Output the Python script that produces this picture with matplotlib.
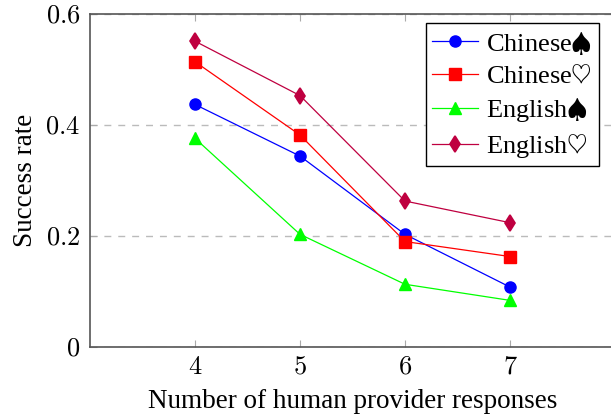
import numpy as np
import matplotlib.pyplot as plt

plt.rcParams['mathtext.fontset'] = 'cm'
plt.rcParams['font.family'] = ['Liberation Serif', 'DejaVu Serif']

# data
responses = [4, 5, 6, 7]
chinese_spade = [0.437, 0.344, 0.203, 0.108]
chinese_heart = [0.514, 0.382, 0.190, 0.163]
english_spade = [0.376, 0.203, 0.113, 0.084]
english_heart = [0.551, 0.453, 0.263, 0.224]
labels = [r"Chinese$\spadesuit$", r"Chinese$\heartsuit$", r"English$\spadesuit$", r"English$\heartsuit$"]
yticks = [0, 0.2, 0.4, 0.6]
ytick_labels = ["$0$", "$0.2$", "$0.4$", "$0.6$"]

fig = plt.figure(figsize=(6.11, 4.16), dpi=100)
ax = fig.add_axes([90/611, 69/416, 525/611, 333/416])

ax.plot(responses, chinese_spade, color="blue", marker="o", ms=8, lw=0.9, label=labels[0])
ax.plot(responses, chinese_heart, color="red", marker="s", ms=8, lw=0.9, label=labels[1])
ax.plot(responses, english_spade, color="#00ff00", marker="^", ms=8, lw=0.9, label=labels[2])
ax.plot(responses, english_heart, color="#bf0040", marker="d", ms=8.5, mew=1.2, lw=0.9, label=labels[3])

ax.set_xlim(3, 8)
ax.set_ylim(0, 0.6)
ax.set_xticks(responses)
ax.set_xticklabels(["$%d$" % r for r in responses], fontsize=19)
ax.set_yticks(yticks)
ax.set_yticklabels(ytick_labels, fontsize=19)
ax.yaxis.grid(True, color="#bbbbbb", ls=(0, (5, 5)), lw=1)
ax.set_axisbelow(True)
ax.tick_params(direction="in", length=5, color="#aaaaaa", top=True, pad=7)
for s in ax.spines.values():
    s.set_color("#555555")
    s.set_linewidth(1.2)

ax.set_xlabel("Number of human provider responses", fontsize=19.5, labelpad=7.5)
ax.set_ylabel("Success rate", fontsize=19.5, labelpad=5)

leg = ax.legend(loc="upper right", bbox_to_anchor=((599-90)/525, (347-23)/333),
                fontsize=19, fancybox=False, edgecolor="black", framealpha=1,
                handlelength=1.75, borderpad=0.25, labelspacing=0.3, handletextpad=0.3,
                borderaxespad=0)
leg.get_frame().set_linewidth(1)

fig.savefig("out.png", dpi=100)
